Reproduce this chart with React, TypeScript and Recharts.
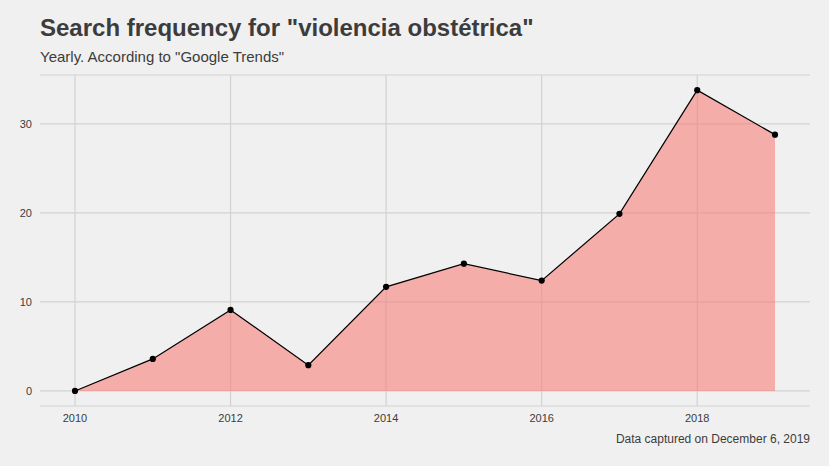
import React from 'react';
import { ComposedChart, Area, Line, XAxis, YAxis, CartesianGrid } from 'recharts';

const years = [2010, 2011, 2012, 2013, 2014, 2015, 2016, 2017, 2018, 2019];
const hits = [0, 3.6, 9.1, 2.9, 11.7, 14.3, 12.4, 19.9, 33.8, 28.8];
const xTicks = [2010, 2012, 2014, 2016, 2018];
const yTicks = [0, 10, 20, 30];

const data = years.map((year, i) => ({ year, value: hits[i] }));

const font = 'Liberation Sans, Arial, sans-serif';

export default function App() {
    return (
        <div style={{ position: 'absolute', left: 0, top: 0, width: 829, height: 466, background: '#f0f0f0', fontFamily: font }}>
            <div style={{ position: 'absolute', left: 40, top: 14, fontSize: 24, fontWeight: 'bold', color: '#3c3c3c' }}>
                Search frequency for "violencia obstétrica"
            </div>
            <div style={{ position: 'absolute', left: 40, top: 48, fontSize: 15, color: '#3c3c3c' }}>
                Yearly. According to "Google Trends"
            </div>
            <ComposedChart width={829} height={466} data={data} margin={{ top: 75, right: 19, bottom: 35, left: 0 }}>
                <CartesianGrid stroke="#d2d2d2" strokeWidth={1.2} verticalValues={xTicks} />
                <XAxis dataKey="year" type="number" domain={[2009.55, 2019.45]} ticks={xTicks} tickLine={false} axisLine={false}
                    tick={{ fontSize: 11, fill: '#3c3c3c', fontFamily: font }} height={25} />
                <YAxis type="number" domain={[-1.69, 35.5]} ticks={yTicks} tickLine={false} axisLine={false} width={40}
                    tick={{ fontSize: 11, fill: '#3c3c3c', fontFamily: font }} />
                <Area isAnimationActive={false} type="linear" dataKey="value" stroke="none" fill="#F8766D" fillOpacity={0.55} baseValue={0} />
                <Line isAnimationActive={false} type="linear" dataKey="value" stroke="#000" strokeWidth={1.2}
                    dot={{ r: 2.5, fill: '#000', stroke: '#000' }} />
            </ComposedChart>
            <div style={{ position: 'absolute', right: 19, top: 432, fontSize: 12, color: '#3c3c3c' }}>
                Data captured on December 6, 2019
            </div>
        </div>
    );
}
